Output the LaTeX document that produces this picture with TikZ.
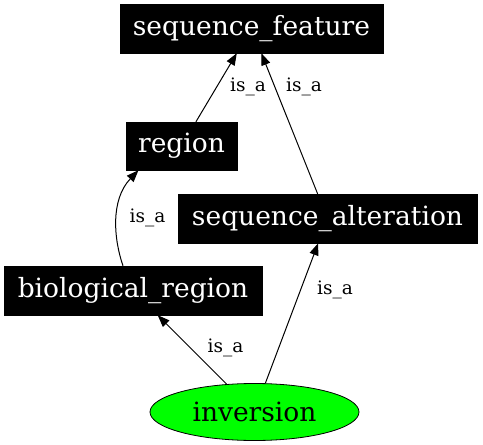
\documentclass[tikz,border=0pt]{standalone}
\usepackage{fontspec}
\setmainfont{DejaVu Serif}
\usetikzlibrary{shapes.geometric,arrows.meta}
\begin{document}
\begin{tikzpicture}[x=1pt,y=-1pt,
  box/.style={rectangle,fill=black,draw=black,text=white,inner sep=0pt,
    font=\fontsize{26.5}{30}\selectfont},
  ell/.style={ellipse,fill={rgb,255:red,0;green,255;blue,0},draw=black,line width=0.8pt,inner sep=0pt,
    minimum width=209pt,minimum height=57pt,font=\fontsize{26.5}{30}\selectfont},
  lbl/.style={font=\fontsize{18.5}{20}\selectfont,inner sep=0pt},
  edge/.style={line width=1pt,-{Triangle[length=12pt,width=9pt]}}]
\useasboundingbox (0,0) rectangle (483,445);
\node[box,minimum width=263pt,minimum height=49pt] (sf) at (251.5,28.5) {sequence\_feature};
\node[box,minimum width=111pt,minimum height=48pt] (reg) at (181.5,146) {region};
\node[box,minimum width=299pt,minimum height=49pt] (sa) at (327.5,218.5) {sequence\_alteration};
\node[box,minimum width=258pt,minimum height=49pt] (bio) at (133,290.5) {biological\_region};
\node[ell] (inv) at (254.5,412) {inversion};
\draw[edge] (reg) -- (sf);
\draw[edge] (sa) -- (sf);
\draw[edge] ([xshift=-10pt]bio.north) .. controls (114,240) and (110,200) .. ([xshift=-43pt]reg.south);
\draw[edge] (inv) -- (bio);
\draw[edge] (inv) -- (sa);
\node[lbl] (l1) at (248,87) {is\_a};
\node[lbl] (l2) at (304,87) {is\_a};
\node[lbl] (l3) at (147.5,218) {is\_a};
\node[lbl] (l4) at (335,290) {is\_a};
\node[lbl] (l5) at (225.5,348) {is\_a};
\end{tikzpicture}
\end{document}
